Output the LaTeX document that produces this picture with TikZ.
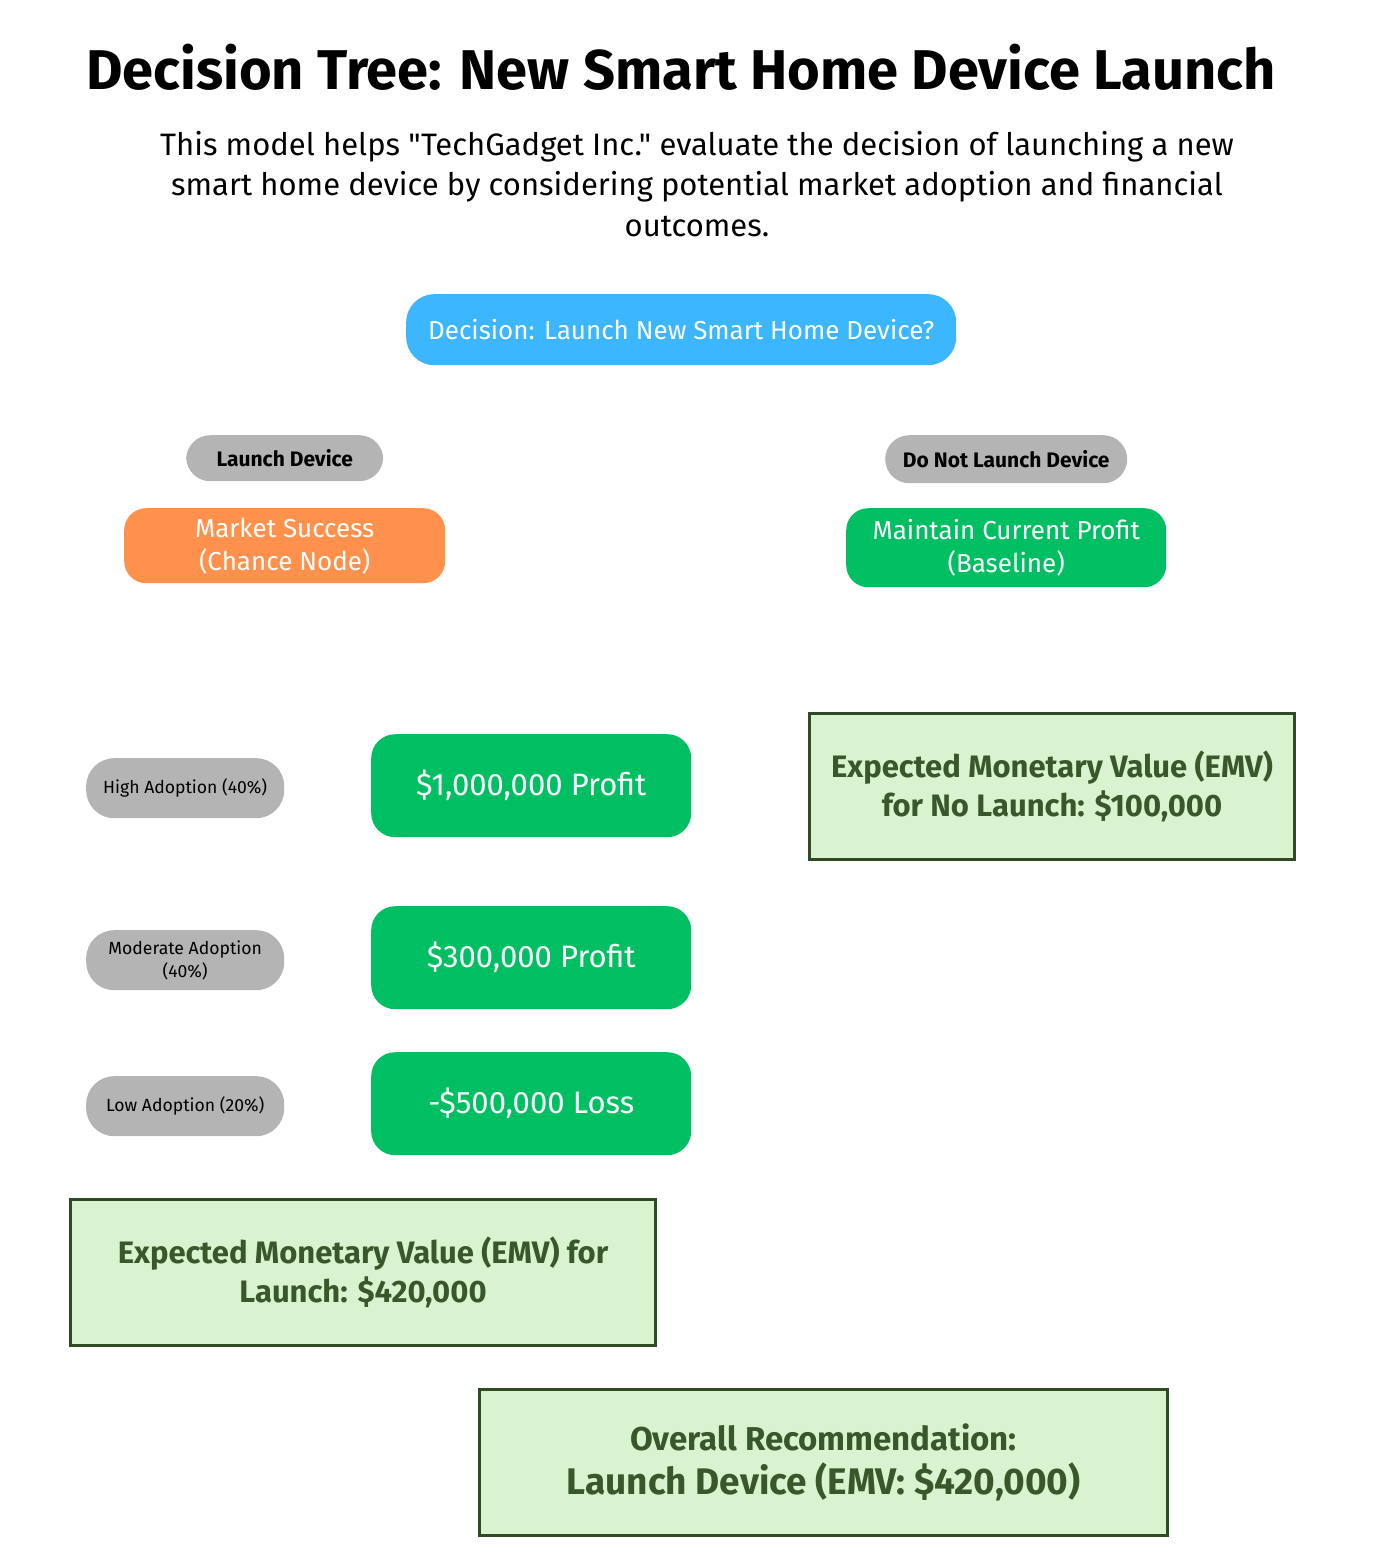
\documentclass[tikz,border=0pt]{standalone}
\usepackage{fontspec}
\setmainfont{Fira Sans}[Ligatures=TeXOff]
\definecolor{dblue}{HTML}{3BB6FF}
\definecolor{gpill}{HTML}{B4B4B4}
\definecolor{orng}{HTML}{FF914D}
\definecolor{grn}{HTML}{00BF63}
\definecolor{emvfill}{HTML}{D9F2D0}
\definecolor{emvtext}{HTML}{38572A}
\definecolor{emvline}{HTML}{2F4A24}
\tikzset{
  box/.style={rounded corners=#1, inner sep=0pt, align=center, anchor=north west},
  pillbox/.style={fill=gpill, rounded corners=24pt, inner sep=0pt, align=center, anchor=north west, text=black},
  emvbox/.style={draw=emvline, line width=3pt, fill=emvfill, inner sep=0pt, align=center, anchor=north west, text=emvtext, font=\bfseries\fontsize{31}{39}\selectfont},
}
\begin{document}
\begin{tikzpicture}[x=1pt,y=-1pt]
\useasboundingbox (0,0) rectangle (1384,1568);
% title
\node[font=\bfseries\fontsize{56}{62}\selectfont] (title) at (681,67) {Decision Tree: New Smart Home Device Launch};
\node[align=center, font=\fontsize{31}{40.5}\selectfont] (sub) at (697,184) {This model helps "TechGadget Inc." evaluate the decision of launching a new\\ smart home device by considering potential market adoption and financial\\ outcomes.};
% decision
\node[box=28pt, fill=dblue, text=white, minimum width=550pt, minimum height=71pt, font=\fontsize{26}{30}\selectfont] (dec) at (406,294) {Decision: Launch New Smart Home Device?};
% branches
\node[pillbox, minimum width=197pt, minimum height=46pt, font=\bfseries\fontsize{21}{24}\selectfont] (launch) at (186,435) {Launch Device};
\node[pillbox, minimum width=242pt, minimum height=48pt, font=\bfseries\fontsize{21}{24}\selectfont] (nolaunch) at (885,435) {Do Not Launch Device};
\node[box=22pt, fill=orng, text=white, minimum width=321pt, minimum height=75pt, font=\fontsize{26}{33}\selectfont] (chance) at (124,508) {Market Success\\(Chance Node)};
\node[box=22pt, fill=grn, text=white, minimum width=320pt, minimum height=79pt, font=\fontsize{26}{33}\selectfont] (maintain) at (846,508) {Maintain Current Profit\\(Baseline)};
% outcomes
\node[pillbox, rounded corners=28pt, minimum width=198pt, minimum height=60pt, font=\fontsize{17.6}{23}\selectfont] (high) at (86,758) {High Adoption (40\%)};
\node[pillbox, rounded corners=28pt, minimum width=198pt, minimum height=60pt, font=\fontsize{17.6}{23}\selectfont] (mod) at (86,930) {Moderate Adoption\\(40\%)};
\node[pillbox, rounded corners=28pt, minimum width=198pt, minimum height=60pt, font=\fontsize{17.6}{23}\selectfont] (low) at (86,1076) {Low Adoption (20\%)};
\node[box=24pt, fill=grn, text=white, minimum width=320pt, minimum height=103pt, font=\fontsize{31}{36}\selectfont] (p1) at (371,734) {\$1,000,000 Profit};
\node[box=24pt, fill=grn, text=white, minimum width=320pt, minimum height=103pt, font=\fontsize{31}{36}\selectfont] (p2) at (371,906) {\$300,000 Profit};
\node[box=24pt, fill=grn, text=white, minimum width=320pt, minimum height=103pt, font=\fontsize{31}{36}\selectfont] (p3) at (371,1052) {-\$500,000 Loss};
% EMV boxes
\node[emvbox, minimum width=485pt, minimum height=146pt] (emvno) at (808,712) {Expected Monetary Value (EMV)\\for No Launch: \$100,000};
\node[emvbox, minimum width=585pt, minimum height=146pt] (emvyes) at (69,1198) {Expected Monetary Value (EMV) for\\Launch: \$420,000};
\node[emvbox, minimum width=688pt, minimum height=146pt, font=\bfseries\fontsize{33}{44}\selectfont] (overall) at (478,1388) {Overall Recommendation:\\{\fontsize{37}{44}\selectfont Launch Device (EMV: \$420,000)}};
\end{tikzpicture}
\end{document}
